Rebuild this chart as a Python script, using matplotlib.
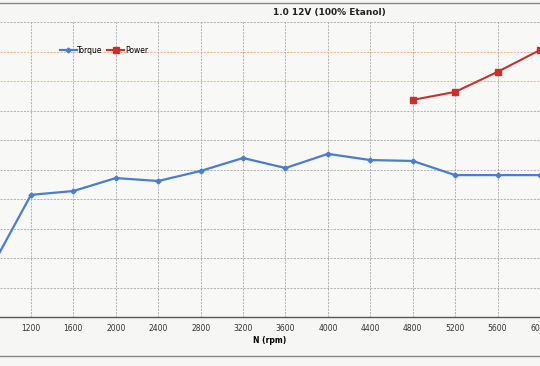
import matplotlib
matplotlib.use("Agg")
import matplotlib.pyplot as plt
from matplotlib.lines import Line2D

rpm = [800, 1200, 1600, 2000, 2400, 2800, 3200, 3600, 4000, 4400, 4800, 5200, 5600, 6000]
torque = [15.0, 41.4, 42.7, 47.1, 46.1, 49.5, 53.9, 50.5, 55.3, 53.2, 52.9, 48.1, 48.1, 48.1]
power_rpm = [4800, 5200, 5600, 6000]
power = [73.6, 76.3, 83.1, 90.5]
xticks = [1200, 1600, 2000, 2400, 2800, 3200, 3600, 4000, 4400, 4800, 5200, 5600, 6000]
yticks = [0, 10, 20, 30, 40, 50, 60, 70, 80, 90, 100]

fig = plt.figure(figsize=(5.4, 3.66), dpi=100, facecolor="#f6f6f4")
ax = fig.add_axes([0, 49/366, 1, 295/366])
ax.set_facecolor("#f8f8f6")

ax.plot(rpm, torque, color="#4a7cd0", lw=1.6, marker="D", ms=2.5, label="Torque", zorder=3)
ax.plot(power_rpm, power, color="#c8302c", lw=1.5, marker="s", ms=5, label="Power", zorder=3)

ax.set_xlim(908, 6000)
ax.set_ylim(0, 100)
ax.set_xticks(xticks)
ax.set_xticklabels([str(v) for v in xticks], fontsize=5.5, color="#333333")
ax.set_yticks(yticks)
ax.tick_params(axis="y", left=False, labelleft=False)
ax.tick_params(axis="x", length=0, pad=5)
ax.grid(True, linestyle=(0, (2.5, 1.5)), color="#a6a6a6", lw=0.6)
gl = ax.get_ygridlines()
for i in (8, 9):
    gl[i].set_color("#eaa985")
for s in ("left", "right", "top"):
    ax.spines[s].set_visible(False)
ax.spines["bottom"].set_color("#555555")
ax.spines["bottom"].set_linewidth(1.0)

ax.set_xlabel("N (rpm)", fontsize=5.5, fontweight="bold", labelpad=2)
fig.text(0.61, 1 - 13/366, "1.0 12V (100% Etanol)", fontsize=6.5, fontweight="bold",
         ha="center", va="center", color="#222222")

leg = ax.legend(loc="upper left", bbox_to_anchor=(0.105, 0.93), ncol=2, frameon=False,
                fontsize=5.5, handlelength=2.2, columnspacing=0.6, handletextpad=0.1,
                borderaxespad=0)

fig.add_artist(Line2D([0, 1], [1 - 3/366, 1 - 3/366], color="#888888", lw=1.0))
fig.add_artist(Line2D([0, 1], [1 - 356/366, 1 - 356/366], color="#888888", lw=1.0))

fig.savefig("out.png", dpi=100, facecolor=fig.get_facecolor())
